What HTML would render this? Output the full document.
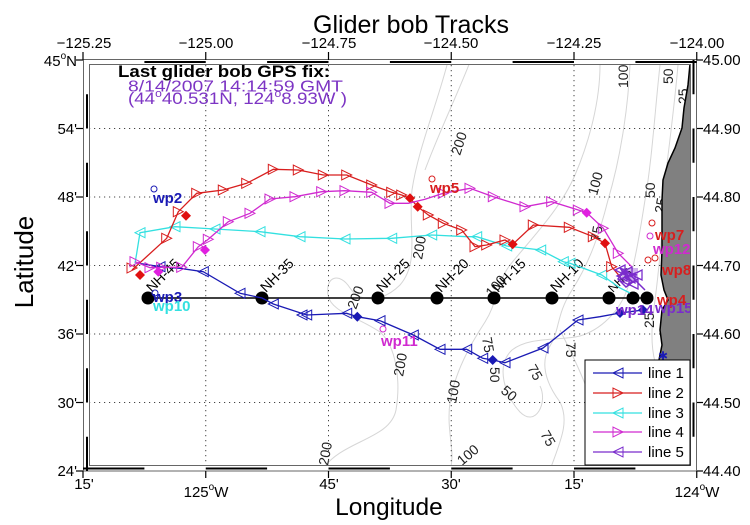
<!DOCTYPE html>
<html><head><meta charset="utf-8"><style>
html,body{margin:0;padding:0;background:#fff;}
svg{display:block;font-family:"Liberation Sans",Arial,sans-serif;}
</style></head><body>
<svg width="750" height="525" viewBox="0 0 750 525" xmlns="http://www.w3.org/2000/svg">
<defs>
<clipPath id="pc"><rect x="89" y="65" width="602" height="401"/></clipPath>
<marker id="tl1" markerUnits="userSpaceOnUse" markerWidth="12" markerHeight="12" refX="6" refY="6" orient="0" overflow="visible"><path d="M1,6 L11,1 L11,11 Z" fill="none" stroke="#1a1ab4" stroke-width="1"/></marker>
<marker id="tr2" markerUnits="userSpaceOnUse" markerWidth="12" markerHeight="12" refX="6" refY="6" orient="0" overflow="visible"><path d="M11,6 L1,1 L1,11 Z" fill="none" stroke="#d81e1e" stroke-width="1"/></marker>
<marker id="tl3" markerUnits="userSpaceOnUse" markerWidth="12" markerHeight="12" refX="6" refY="6" orient="0" overflow="visible"><path d="M1,6 L11,1 L11,11 Z" fill="none" stroke="#33e0e0" stroke-width="1"/></marker>
<marker id="tr4" markerUnits="userSpaceOnUse" markerWidth="12" markerHeight="12" refX="6" refY="6" orient="0" overflow="visible"><path d="M11,6 L1,1 L1,11 Z" fill="none" stroke="#d02ad0" stroke-width="1"/></marker>
<marker id="tl5" markerUnits="userSpaceOnUse" markerWidth="12" markerHeight="12" refX="6" refY="6" orient="0" overflow="visible"><path d="M1,6 L11,1 L11,11 Z" fill="none" stroke="#7a2ccc" stroke-width="1.3"/></marker>
<marker id="d1" markerUnits="userSpaceOnUse" markerWidth="12" markerHeight="12" refX="6" refY="6" orient="0" overflow="visible"><path d="M6,1 L11,6 L6,11 L1,6 Z" fill="#1a1ab4"/></marker>
<marker id="d2" markerUnits="userSpaceOnUse" markerWidth="12" markerHeight="12" refX="6" refY="6" orient="0" overflow="visible"><path d="M6,1 L11,6 L6,11 L1,6 Z" fill="#e01010"/></marker>
<marker id="d4" markerUnits="userSpaceOnUse" markerWidth="12" markerHeight="12" refX="6" refY="6" orient="0" overflow="visible"><path d="M6,1 L11,6 L6,11 L1,6 Z" fill="#e020e0"/></marker>
</defs>

<!-- Title -->
<text x="411" y="33" font-size="25" text-anchor="middle" fill="#000">Glider bob Tracks</text>

<g clip-path="url(#pc)">
<!-- contours -->
<g fill="none" stroke="#d6d6d6" stroke-width="1">
<path d="M447,65 C435,110 418,150 412,190 C408,230 420,262 400,285 C385,300 362,305 350,288 C340,272 325,276 328,295 C331,312 356,316 380,332 C396,346 401,380 396,410 C390,440 342,440 322,470"/>
<path d="M600,65 C600,100 590,140 575,175 C560,210 530,240 510,265 C495,285 498,302 485,322 C470,345 455,372 450,402 C446,432 456,452 450,470"/>
<path d="M630,65 C628,110 620,160 608,200 C600,232 590,262 572,290 C556,315 560,330 550,346 C540,362 545,382 560,402 C570,422 560,442 550,470"/>
<path d="M660,65 C655,110 652,160 645,200 C640,232 635,262 628,287 C620,312 600,330 580,336 C560,341 530,336 512,350 C495,366 505,396 520,412 C536,428 548,402 540,386"/>
<path d="M678,65 C675,100 670,140 665,180 C663,222 660,262 655,300 C652,322 650,342 655,362"/>
<path d="M470,62 C455,100 440,130 425,170"/>
<path d="M560,330 C575,360 590,390 600,430 C605,450 600,465 598,470"/>
</g>
<g font-size="14" fill="#222">
<text transform="translate(460,156) rotate(-72)">200</text>
<text transform="translate(628,88) rotate(-90)">100</text>
<text transform="translate(673,84) rotate(-90)">50</text>
<text transform="translate(688,104) rotate(-90)">25</text>
<text transform="translate(597,196) rotate(-75)">100</text>
<text transform="translate(655,198) rotate(-90)">50</text>
<text transform="translate(664,214) rotate(-80)">25</text>
<text transform="translate(600,242) rotate(-80)">75</text>
<text transform="translate(422,260) rotate(-80)">200</text>
<text transform="translate(356,310) rotate(-70)">200</text>
<text transform="translate(492,298) rotate(-50)">100</text>
<text transform="translate(403,377) rotate(-80)">200</text>
<text transform="translate(456,404) rotate(-80)">100</text>
<text transform="translate(482,338) rotate(80)">75</text>
<text transform="translate(490,367) rotate(90)">50</text>
<text transform="translate(527,368) rotate(60)">75</text>
<text transform="translate(500,392) rotate(40)">50</text>
<text transform="translate(540,434) rotate(60)">75</text>
<text transform="translate(566,342) rotate(90)">75</text>
<text transform="translate(328,466) rotate(-80)">200</text>
<text transform="translate(462,466) rotate(-40)">100</text>
<text transform="translate(654,328) rotate(-90)">25</text>
</g>

<!-- grid -->
<g stroke="#444" stroke-width="1" stroke-dasharray="1.2 3.8" fill="none">
<line x1="205.75" y1="65" x2="205.75" y2="466"/>
<line x1="328.5" y1="65" x2="328.5" y2="466"/>
<line x1="451.25" y1="65" x2="451.25" y2="466"/>
<line x1="574" y1="65" x2="574" y2="466"/>
<line x1="89" y1="128.5" x2="691" y2="128.5"/>
<line x1="89" y1="197" x2="691" y2="197"/>
<line x1="89" y1="265.5" x2="691" y2="265.5"/>
<line x1="89" y1="334" x2="691" y2="334"/>
<line x1="89" y1="402.5" x2="691" y2="402.5"/>
</g>

<!-- land -->
<path d="M690,64 L688,85 L684,108 L682,128 L675,148 L668,163 L663,180 L662,200 L662,250 L661,275 L664,290 L668,300 L662,310 L660,330 L662,345 L659,360 L660,470 L700,470 L700,64 Z" fill="#808080" stroke="#000" stroke-width="1.5"/>

<!-- NH line -->
<line x1="148" y1="298" x2="648" y2="298" stroke="#000" stroke-width="1.5"/>
<g fill="#000">
<circle cx="148" cy="298" r="6.5"/><circle cx="262" cy="298" r="6.5"/><circle cx="378" cy="298" r="6.5"/>
<circle cx="437" cy="298" r="6.5"/><circle cx="494" cy="298" r="6.5"/><circle cx="552" cy="298" r="6.5"/>
<circle cx="609" cy="298" r="6.5"/><circle cx="633" cy="298" r="6.5"/><circle cx="647" cy="298" r="6.5"/>
</g>
<g font-size="14" fill="#000">
<text transform="translate(152,293) rotate(-45)">NH-45</text>
<text transform="translate(266,293) rotate(-45)">NH-35</text>
<text transform="translate(382,293) rotate(-45)">NH-25</text>
<text transform="translate(441,293) rotate(-45)">NH-20</text>
<text transform="translate(498,293) rotate(-45)">NH-15</text>
<text transform="translate(556,293) rotate(-45)">NH-10</text>
<text transform="translate(613,293) rotate(-45)" font-size="12">NH-5</text>
</g>

<!-- line 3 cyan -->
<polyline fill="none" stroke="#33e0e0" stroke-width="1.3" points="630,293 620,288 601.7,275 570,263.3 563.3,261.7 540.7,250 506.7,246 476.7,236.7 466.7,236.7 431.7,235 391.7,238.3 345,239 300,236.7 260,231.7 215,229 175,226.7 140,232.7 136.7,253.3 135,263.3"/>
<polyline fill="none" stroke="none" marker-start="url(#tl3)" marker-mid="url(#tl3)" marker-end="url(#tl3)" points="601.7,275 570,263.3 563.3,261.7 540.7,250 506.7,246 476.7,236.7 431.7,235 391.7,238.3 345,239 300,236.7 260,231.7 215,229 175,226.7 140,232.7"/>

<!-- line 1 blue -->
<polyline fill="none" stroke="#1a1ab4" stroke-width="1.3" points="643,310 620,313 600,316.7 578,320 543,348 505,362.7 492.7,360 482.7,358.3 466.7,349.3 440,349.3 413.3,335 380,320.7 357.3,316.7 346.7,313.3 306.7,315 273.3,304 262,298 240,293.3 203.3,271.7 180,268.3 160,266.7 137,263"/>
<polyline fill="none" stroke="none" marker-start="url(#tl1)" marker-mid="url(#tl1)" marker-end="url(#tl1)" points="578,320 543,348 505,362.7 482.7,358.3 466.7,349.3 440,349.3 413.3,335 380,320.7 346.7,313.3 306.7,315 302,315 273.3,304 240,293.3 203.3,271.7 160,266.7"/>
<polyline fill="none" stroke="none" marker-start="url(#d1)" marker-mid="url(#d1)" marker-end="url(#d1)" points="357.3,316.7 492.7,360 620,313 643,310"/>

<!-- line 2 red -->
<polyline fill="none" stroke="#d81e1e" stroke-width="1.3" points="132,270 166.7,238.3 178.3,211.7 196.7,193.3 223.3,190 246.7,183.3 273.3,169.3 298.3,170 323.3,175 346.7,175 371.7,185 391.7,192.3 401.7,195 410,198.3 417.7,206.7 428.3,215 443.3,223.3 461.7,230 475,246.7 486.7,245 505,240 512.7,244.3 533.3,225 569.3,227.3 593.3,236.7 605,243.3 611.7,266.7 620,276.7"/>
<polyline fill="none" stroke="none" marker-start="url(#tr2)" marker-mid="url(#tr2)" marker-end="url(#tr2)" points="132,268 166.7,238.3 178.3,211.7 196.7,193.3 223.3,190 246.7,183.3 273.3,169.3 298.3,170 323.3,175 346.7,175 371.7,185 391.7,192.3 401.7,195 428.3,215 443.3,223.3 461.7,230 475,246.7 486.7,245 505,240 533.3,225 569.3,227.3 593.3,236.7 611.7,266.7"/>
<polyline fill="none" stroke="none" marker-start="url(#d2)" marker-mid="url(#d2)" marker-end="url(#d2)" points="140,275 186,215.7 410,198.3 417.7,206.7 512.7,244.3 605,243.3"/>

<!-- line 4 magenta -->
<polyline fill="none" stroke="#d02ad0" stroke-width="1.3" points="135,261.7 150,267.7 161.7,267.3 181.7,267.3 198.3,246.7 208.3,239.3 228.3,221.7 250,213.3 270,199 295,196.7 321.7,191.7 345,190.7 371.7,192.3 390,203.3 408.3,203.3 425,199.3 443.3,193.3 470,188.3 493.3,196.7 525,206.7 551.7,201.7 578.3,210 586.7,212.7 603.3,228.3 618.3,253.3 631.7,266.7"/>
<polyline fill="none" stroke="none" marker-start="url(#tr4)" marker-mid="url(#tr4)" marker-end="url(#tr4)" points="135,261.7 150,267.7 161.7,267.3 181.7,267.3 198.3,246.7 208.3,239.3 228.3,221.7 250,213.3 270,199 295,196.7 321.7,191.7 345,190.7 371.7,192.3 390,203.3 443.3,193.3 470,188.3 493.3,196.7 525,206.7 551.7,201.7 578.3,210 603.3,228.3 618.3,253.3"/>
<polyline fill="none" stroke="none" marker-start="url(#d4)" marker-mid="url(#d4)" marker-end="url(#d4)" points="158.3,271.7 205,250 586.7,212.7"/>

<!-- line 5 purple cluster -->
<polyline fill="none" stroke="#7a2ccc" stroke-width="1.5" points="645,290 636,281 628,272 620,268 626,276 633,282 626,287 618,279 624,272 637,275"/>
<polyline fill="none" stroke="none" marker-start="url(#tl5)" marker-mid="url(#tl5)" marker-end="url(#tl5)" points="620,270 627,272 630,278 637,275 624,280 633,284 622,276"/>
<rect x="622" y="268" width="16" height="14" fill="#7a2ccc" opacity="0.35"/>

<!-- waypoints -->
<g fill="none" stroke-width="1">
<circle cx="154" cy="189" r="3" stroke="#1a1ab4"/>
<circle cx="155" cy="293" r="3" stroke="#1a1ab4"/>
<circle cx="432" cy="179" r="3" stroke="#d81e1e"/>
<circle cx="383" cy="329" r="3" stroke="#d02ad0"/>
<circle cx="652" cy="223" r="3" stroke="#d81e1e"/>
<circle cx="650" cy="236" r="3" stroke="#d02ad0"/>
<circle cx="648" cy="260" r="3" stroke="#d81e1e"/>
<circle cx="655" cy="258" r="3" stroke="#d81e1e"/>
</g>
<g font-size="15" font-weight="bold">
<text x="153" y="203" fill="#1a1ab4">wp2</text>
<text x="153" y="302" fill="#1a1ab4">wp3</text>
<text x="153" y="311" fill="#33e0e0">wp10</text>
<text x="430" y="193" fill="#d81e1e">wp5</text>
<text x="381" y="346" fill="#d02ad0">wp11</text>
<text x="655" y="240" fill="#d81e1e">wp7</text>
<text x="653" y="254" fill="#d02ad0">wp12</text>
<text x="662" y="275" fill="#d81e1e">wp8</text>
<text x="657" y="305" fill="#d81e1e">wp4</text>
<text x="616" y="315" fill="#7a2ccc">wp14</text>
<text x="655" y="313" fill="#7a2ccc">wp15</text>
</g>
<text x="663" y="360" font-size="12" fill="#1a1ab4" text-anchor="middle">✱</text>
</g>

<!-- fancy frame -->
<rect x="83.5" y="59.5" width="613" height="411.5" fill="none" stroke="#666" stroke-width="1"/>
<rect x="89.5" y="64.5" width="601" height="401" fill="none" stroke="#666" stroke-width="1"/>
<g fill="#000">
<rect x="144.4" y="61" width="61.35" height="2"/><rect x="267.1" y="61" width="61.4" height="2"/><rect x="389.9" y="61" width="61.35" height="2"/><rect x="512.6" y="61" width="61.4" height="2"/><rect x="635.4" y="61" width="61.35" height="2"/>
<rect x="83" y="467.5" width="61.4" height="2"/><rect x="205.75" y="467.5" width="61.35" height="2"/><rect x="328.5" y="467.5" width="61.4" height="2"/><rect x="451.25" y="467.5" width="61.35" height="2"/><rect x="574" y="467.5" width="61.4" height="2"/>
<rect x="86" y="436.75" width="2" height="34.25"/><rect x="86" y="368.25" width="2" height="34.25"/><rect x="86" y="299.75" width="2" height="34.25"/><rect x="86" y="231.25" width="2" height="34.25"/><rect x="86" y="162.75" width="2" height="34.25"/><rect x="86" y="94.25" width="2" height="34.25"/>
<rect x="692.5" y="402.5" width="2" height="34.25"/><rect x="692.5" y="334" width="2" height="34.25"/><rect x="692.5" y="265.5" width="2" height="34.25"/><rect x="692.5" y="197" width="2" height="34.25"/><rect x="692.5" y="128.5" width="2" height="34.25"/><rect x="692.5" y="60" width="2" height="34.25"/>
</g>
<!-- ticks -->
<g stroke="#000" stroke-width="1.2">
<line x1="83" y1="52" x2="83" y2="60"/><line x1="205.75" y1="52" x2="205.75" y2="60"/><line x1="328.5" y1="52" x2="328.5" y2="60"/><line x1="451.25" y1="52" x2="451.25" y2="60"/><line x1="574" y1="52" x2="574" y2="60"/><line x1="696.75" y1="52" x2="696.75" y2="60"/>
<line x1="83" y1="471" x2="83" y2="478"/><line x1="205.75" y1="471" x2="205.75" y2="478"/><line x1="328.5" y1="471" x2="328.5" y2="478"/><line x1="451.25" y1="471" x2="451.25" y2="478"/><line x1="574" y1="471" x2="574" y2="478"/><line x1="696.75" y1="471" x2="696.75" y2="478"/>
<line x1="76" y1="60" x2="83" y2="60"/><line x1="76" y1="128.5" x2="83" y2="128.5"/><line x1="76" y1="197" x2="83" y2="197"/><line x1="76" y1="265.5" x2="83" y2="265.5"/><line x1="76" y1="334" x2="83" y2="334"/><line x1="76" y1="402.5" x2="83" y2="402.5"/><line x1="76" y1="471" x2="83" y2="471"/>
<line x1="697" y1="60" x2="703" y2="60"/><line x1="697" y1="128.5" x2="703" y2="128.5"/><line x1="697" y1="197" x2="703" y2="197"/><line x1="697" y1="265.5" x2="703" y2="265.5"/><line x1="697" y1="334" x2="703" y2="334"/><line x1="697" y1="402.5" x2="703" y2="402.5"/><line x1="697" y1="471" x2="703" y2="471"/>
</g>

<!-- tick labels -->
<g font-size="15" fill="#000">
<g text-anchor="middle">
<text x="84" y="48">−125.25</text><text x="206" y="48">−125.00</text><text x="329" y="48">−124.75</text><text x="451" y="48">−124.50</text><text x="574" y="48">−124.25</text><text x="697" y="48">−124.00</text>
<text x="84" y="489">15'</text>
<text x="206" y="497">125<tspan font-size="10" dy="-7">o</tspan><tspan dy="7">W</tspan></text>
<text x="329" y="489">45'</text><text x="451" y="489">30'</text><text x="574" y="489">15'</text>
<text x="697" y="497">124<tspan font-size="10" dy="-7">o</tspan><tspan dy="7">W</tspan></text>
</g>
<g text-anchor="end">
<text x="77" y="66">45<tspan font-size="10" dy="-7">o</tspan><tspan dy="7">N</tspan></text>
<text x="77" y="134">54'</text><text x="77" y="202">48'</text><text x="77" y="271">42'</text><text x="77" y="339">36'</text><text x="77" y="408">30'</text><text x="77" y="476">24'</text>
</g>
<text x="703" y="65">45.00</text><text x="703" y="134">44.90</text><text x="703" y="202">44.80</text><text x="703" y="271">44.70</text><text x="703" y="339">44.60</text><text x="703" y="408">44.50</text><text x="703" y="476">44.40</text>
</g>

<!-- axis labels -->
<text x="389" y="515" font-size="24.5" text-anchor="middle">Longitude</text>
<text transform="translate(33,262) rotate(-90)" font-size="26" text-anchor="middle">Latitude</text>

<!-- GPS fix text -->
<text x="118" y="77" font-size="17" font-weight="bold" textLength="212" lengthAdjust="spacingAndGlyphs">Last glider bob GPS fix:</text>
<text x="128" y="91.5" font-size="15.5" fill="#7d35c4" textLength="215" lengthAdjust="spacingAndGlyphs">8/14/2007 14:14:59 GMT</text>
<text x="128" y="104" font-size="17" fill="#7d35c4" textLength="219" lengthAdjust="spacingAndGlyphs">(44<tspan font-size="11" dy="-7">o</tspan><tspan dy="7">40.531N, 124</tspan><tspan font-size="11" dy="-7">o</tspan><tspan dy="7">8.93W )</tspan></text>

<!-- legend -->
<rect x="585" y="360" width="105" height="105" fill="#fff" stroke="#000" stroke-width="1"/>
<g stroke-width="1.3">
<line x1="593" y1="373" x2="642" y2="373" stroke="#1a1ab4"/>
<line x1="593" y1="393" x2="642" y2="393" stroke="#d81e1e"/>
<line x1="593" y1="413" x2="642" y2="413" stroke="#33e0e0"/>
<line x1="593" y1="432" x2="642" y2="432" stroke="#d02ad0"/>
<line x1="593" y1="452" x2="642" y2="452" stroke="#7a2ccc"/>
</g>
<g fill="none" stroke-width="1">
<path d="M613,373 L623,368 L623,378 Z" stroke="#1a1ab4"/>
<path d="M623,393 L613,388 L613,398 Z" stroke="#d81e1e"/>
<path d="M613,413 L623,408 L623,418 Z" stroke="#33e0e0"/>
<path d="M623,432 L613,427 L613,437 Z" stroke="#d02ad0"/>
<path d="M613,452 L623,447 L623,457 Z" stroke="#7a2ccc"/>
</g>
<g font-size="15" fill="#000">
<text x="648" y="378">line 1</text><text x="648" y="398">line 2</text><text x="648" y="418">line 3</text><text x="648" y="437">line 4</text><text x="648" y="457">line 5</text>
</g>
</svg>
</body></html>
